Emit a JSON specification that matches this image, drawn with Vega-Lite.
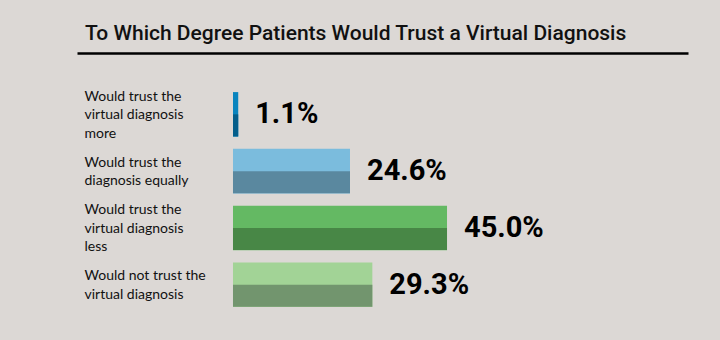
{
  "$schema": "https://vega.github.io/schema/vega-lite/v6.json",
  "width": 611,
  "height": 260,
  "autosize": {"type": "none"},
  "padding": {"left": 77, "top": 53, "right": 32, "bottom": 27},
  "background": "#dcd8d5",
  "config": {"view": {"stroke": null}},
  "title": {
    "text": "To Which Degree Patients Would Trust a Virtual Diagnosis",
    "anchor": "start",
    "frame": "group",
    "font": "Roboto",
    "fontSize": 21,
    "fontWeight": 500,
    "color": "#111111",
    "dx": 8,
    "dy": 24,
    "offset": 16,
    "baseline": "alphabetic"
  },
  "data": {
    "values": [
      {"answer": "Would trust the|virtual diagnosis|more", "pct": 1.1, "label": "1.1%"},
      {"answer": "Would trust the|diagnosis equally", "pct": 24.6, "label": "24.6%"},
      {"answer": "Would trust the|virtual diagnosis|less", "pct": 45.0, "label": "45.0%"},
      {"answer": "Would not trust the|virtual diagnosis", "pct": 29.3, "label": "29.3%"}
    ]
  },
  "encoding": {
    "y": {
      "field": "answer",
      "type": "nominal",
      "sort": null,
      "scale": {"paddingInner": 0.215, "paddingOuter": 0.397, "align": 0.867},
      "axis": {
        "orient": "left",
        "title": null,
        "domain": false,
        "ticks": false,
        "labelAlign": "left",
        "labelPadding": -7,
        "labelExpr": "split(datum.label, '|')",
        "labelFont": "Lato",
        "labelFontSize": 14,
        "labelColor": "#111111",
        "labelLineHeight": 18.5,
        "labelBaseline": "middle",
        "labelOffset": {"condition": {"test": "length(split(datum.label, '|')) == 3", "value": -17.5}, "value": -8.5},
        "labelLimit": 0
      }
    },
    "x": {
      "field": "pct",
      "type": "quantitative",
      "scale": {"domain": [-32.8, 95.67], "nice": false, "zero": false},
      "axis": {
        "orient": "top",
        "title": null,
        "labels": false,
        "ticks": false,
        "grid": false,
        "domain": true,
        "domainColor": "#000000",
        "domainWidth": 2.5
      }
    }
  },
  "layer": [
    {
      "mark": {"type": "bar"},
      "encoding": {
        "x2": {"datum": 0},
        "color": {
          "field": "answer",
          "type": "nominal",
          "sort": null,
          "scale": {"range": ["#0984be", "#7bbcdd", "#64b963", "#a2d396"]},
          "legend": null
        }
      }
    },
    {
      "mark": {"type": "bar", "height": 22, "yOffset": 11},
      "encoding": {
        "x2": {"datum": 0},
        "color": {
          "field": "answer",
          "type": "nominal",
          "sort": null,
          "scale": {"range": ["#045e8b", "#5a889f", "#488746", "#72956e"]},
          "legend": null
        }
      }
    },
    {
      "mark": {"type": "text", "align": "left", "baseline": "middle", "dx": 17, "font": "Roboto", "fontSize": 29, "fontWeight": "bold", "color": "#000000"},
      "encoding": {
        "text": {"field": "label"}
      }
    }
  ],
  "resolve": {"scale": {"color": "independent"}}
}
